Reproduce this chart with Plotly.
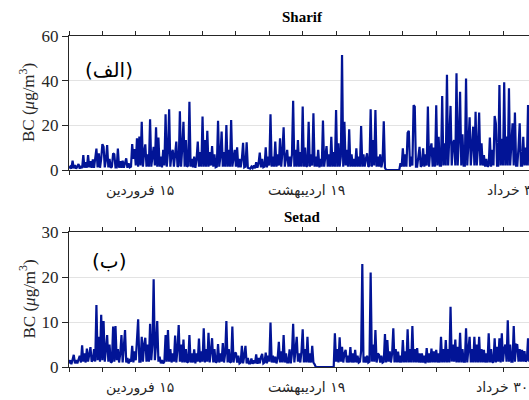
import numpy as np
import plotly.graph_objects as go

# Black carbon (µg/m³), one value every 6 hours starting at 1 Farvardin.
# Each row holds four days (00h, 06h, 12h, 18h per day).
sharif_bc = [
    0.8, 1.5, 0.6, 4.2,   0.7, 2.2, 0.6, 1.8,   2.7, 0.6, 1.8, 0.8,   6.7, 1.0, 3.5, 1.0,
    6.7, 1.2, 4.0, 1.0,   4.8, 1.0, 5.0, 9.6,   1.2, 7.5, 1.0, 5.0,   11.6, 10.4, 1.2, 4.5,
    11.2, 1.2, 5.0, 1.0,  1.5, 7.5, 7.0, 1.2,   1.2, 9.6, 1.0, 4.0,   1.0, 4.2, 1.0, 3.0,
    5.2, 1.0, 3.0, 1.2,   1.5, 11.6, 5.0, 9.4,  2.0, 14.2, 1.5, 15.0, 2.0, 21.6, 1.5, 8.0,
    11.5, 1.5, 7.0, 1.5,  22.7, 1.5, 8.0, 10.4, 2.0, 19.1, 1.5, 14.5, 1.5, 6.0, 1.2, 9.0,
    2.0, 25.0, 1.5, 8.0,  27.2, 1.5, 7.0, 9.0,  1.5, 6.0, 12.7, 1.5,  2.0, 26.3, 1.5, 10.0,
    21.6, 1.5, 13.4, 1.5, 2.0, 30.6, 1.5, 5.0,  1.2, 6.0, 1.0, 5.0,   12.7, 1.5, 8.0, 1.5,
    23.9, 1.5, 13.4, 1.5, 17.6, 1.5, 8.0, 2.0,  10.7, 1.5, 7.0, 1.2,  1.5, 22.0, 1.5, 6.0,
    17.2, 1.5, 8.0, 1.5,  20.1, 1.5, 9.0, 1.5,  22.4, 1.5, 6.0, 9.0,  1.5, 10.1, 1.2, 5.0,
    1.2, 5.0, 12.2, 1.2,  1.5, 12.4, 1.0, 0.8,  0.6, 1.5, 0.8, 2.0,   0.8, 3.5, 1.0, 3.0,
    7.8, 1.2, 5.0, 1.2,   1.5, 10.1, 1.2, 6.0,  2.0, 25.0, 1.5, 6.0,  1.5, 12.7, 1.5, 7.0,
    2.0, 14.2, 1.5, 8.0,  19.1, 1.5, 6.0, 9.0,  1.5, 6.0, 1.5, 7.0,   31.0, 1.5, 9.0, 1.5,
    13.4, 1.5, 8.0, 1.5,  28.4, 1.5, 10.0, 1.5, 2.0, 21.6, 1.5, 7.0,  2.0, 25.4, 1.5, 6.0,
    1.5, 9.0, 1.2, 5.0,   1.5, 22.1, 1.5, 7.0,  10.7, 1.5, 7.0, 1.5,  14.9, 1.5, 8.0, 1.5,
    26.9, 1.5, 11.9, 1.5, 6.0, 51.5, 1.5, 21.6, 2.0, 9.0, 1.5, 18.2,  1.5, 7.0, 1.5, 5.0,
    1.5, 9.7, 1.5, 6.0,   1.5, 19.7, 1.5, 7.0,  1.5, 5.0, 7.5, 1.5,   2.0, 27.2, 1.5, 13.4,
    2.0, 26.9, 1.5, 6.0,  1.5, 7.0, 1.2, 4.0,   21.8, 1.0, 0.0, 0.0,  0.0, 0.0, 0.0, 0.0,
    0.0, 0.0, 0.0, 0.0,   0.0, 0.0, 3.0, 1.5,   9.7, 1.5, 7.0, 1.5,   16.7, 17.6, 1.5, 6.0,
    2.0, 29.0, 28.4, 1.5, 1.5, 8.0, 10.4, 1.5,  2.0, 9.7, 1.5, 7.0,   2.0, 28.4, 1.5, 9.0,
    11.9, 1.5, 10.0, 1.5, 29.0, 2.0, 14.9, 2.0, 2.0, 33.1, 2.0, 12.0, 2.0, 42.7, 2.0, 15.0,
    28.7, 2.0, 12.0, 13.4, 2.0, 43.3, 2.0, 14.0, 35.0, 2.0, 16.0, 2.0, 2.0, 41.0, 2.0, 12.0,
    23.6, 2.0, 12.0, 19.4, 2.0, 26.1, 2.0, 10.0, 25.7, 2.0, 12.0, 2.0, 6.7, 1.5, 5.0, 1.5,
    2.0, 14.5, 1.5, 9.0,  2.0, 24.2, 20.9, 2.0, 2.0, 38.0, 2.0, 14.0, 2.0, 39.3, 2.0, 15.0,
    2.0, 36.6, 2.0, 12.0, 20.9, 2.0, 25.7, 2.0, 2.0, 10.0, 20.9, 2.0, 2.0, 14.9, 2.0, 10.0,
    2.0, 29.1, 2.0, 12.0, 2.0, 8.0, 2.0, 5.0,
]

setad_bc = [
    0.8, 1.5, 0.6, 1.5,   2.7, 0.8, 1.5, 0.8,   1.5, 2.5, 1.0, 4.8,   1.2, 3.0, 1.0, 4.1,
    1.2, 3.0, 4.4, 1.2,   1.5, 4.0, 1.2, 13.8,  1.5, 6.7, 1.2, 11.6,  1.5, 10.2, 1.2, 4.0,
    7.1, 1.2, 5.0, 1.0,   1.2, 9.0, 1.2, 9.1,   1.5, 4.0, 1.0, 3.0,   7.1, 1.0, 4.0, 8.2,
    1.0, 2.0, 0.8, 1.5,   1.2, 4.7, 1.0, 3.5,   1.5, 5.0, 10.6, 1.2,  1.2, 6.7, 1.2, 5.0,
    6.5, 1.2, 5.0, 1.2,   9.6, 1.5, 5.0, 19.5,  1.5, 5.0, 10.2, 1.2,  2.3, 0.8, 1.5, 0.8,
    1.2, 7.1, 1.2, 8.2,   1.2, 4.0, 1.0, 3.0,   1.2, 7.0, 1.0, 4.0,   9.3, 1.2, 5.0, 1.0,
    6.1, 1.0, 4.0, 1.0,   1.2, 7.1, 1.0, 3.0,   1.0, 3.9, 0.8, 3.0,   1.2, 6.3, 1.0, 3.5,
    1.2, 8.6, 1.0, 4.0,   1.2, 7.6, 1.0, 3.5,   6.4, 1.0, 4.0, 1.0,   1.2, 5.1, 1.0, 3.0,
    1.2, 5.3, 1.0, 3.0,   10.2, 1.0, 4.0, 1.0,  1.2, 9.0, 1.0, 3.0,   3.2, 1.0, 2.5, 0.8,
    1.0, 4.7, 0.8, 2.5,   4.7, 0.8, 2.0, 0.8,   0.8, 1.9, 0.7, 1.5,   0.8, 2.8, 0.7, 2.0,
    0.8, 2.2, 2.9, 0.8,   1.0, 3.2, 0.8, 2.5,   1.2, 9.9, 1.0, 2.5,   1.0, 2.3, 0.8, 2.0,
    5.6, 1.0, 3.5, 1.0,   7.1, 1.0, 3.0, 1.0,   1.0, 3.9, 0.8, 3.0,   9.6, 1.0, 4.0, 6.7,
    1.2, 3.0, 1.0, 3.5,   8.4, 1.0, 4.0, 1.0,   6.7, 1.0, 3.0, 1.0,   4.7, 1.0, 0.6, 0.0,
    0.0, 0.0, 0.0, 0.0,   0.0, 0.0, 0.0, 0.0,   0.0, 0.0, 0.0, 0.0,   0.0, 0.0, 0.0, 7.5,
    1.2, 4.0, 1.0, 6.6,   1.2, 4.5, 1.0, 3.0,   3.8, 1.0, 2.5, 1.0,   4.4, 1.0, 3.0, 1.0,
    3.8, 1.0, 2.5, 1.0,   1.2, 3.5, 22.9, 1.0,  2.3, 1.0, 2.5, 1.0,   1.2, 21.0, 1.2, 5.0,
    1.2, 8.2, 1.0, 3.0,   2.7, 1.0, 2.5, 1.0,   1.2, 7.3, 1.0, 6.0,   1.2, 3.5, 1.0, 3.0,
    8.6, 1.0, 4.0, 1.0,   3.4, 1.0, 2.5, 1.0,   6.0, 1.0, 3.5, 1.0,   8.4, 1.0, 4.0, 1.0,
    9.1, 1.0, 4.0, 1.0,   4.2, 1.0, 3.0, 1.0,   3.0, 1.0, 2.5, 0.8,   4.2, 1.0, 3.0, 1.0,
    4.1, 1.0, 3.5, 1.0,   3.8, 1.0, 3.0, 1.0,   6.7, 1.0, 4.0, 1.0,   6.0, 1.0, 4.0, 1.0,
    13.4, 1.2, 5.0, 1.2,  6.1, 1.0, 4.5, 1.0,   7.6, 1.0, 4.0, 1.2,   1.2, 8.6, 1.0, 4.0,
    6.7, 1.0, 4.0, 1.0,   6.7, 1.0, 5.0, 1.0,   6.7, 1.0, 4.0, 1.0,   3.8, 1.0, 3.0, 1.0,
    7.5, 1.0, 4.0, 1.0,   1.2, 6.4, 1.0, 4.5,   1.2, 6.4, 1.0, 7.5,   1.2, 4.0, 5.0, 1.2,
    10.4, 1.2, 5.0, 1.2,  1.2, 9.1, 1.2, 5.0,   4.9, 1.2, 4.0, 1.2,   3.8, 1.2, 3.5, 1.2,
    1.5, 6.4, 1.2, 4.0,   1.5, 3.0, 1.2, 2.5,
]

sample_step_days = 0.25

# Persian calendar dates marked under the time axis (days after 1 Farvardin)
date_days = [14, 49, 91]
date_labels = ["۱۵ فروردین", "۱۹ اردیبهشت", "۳۰ خرداد"]

stations = ["Sharif", "Setad"]
panel_tags = ["(الف)", "(ب)"]
y_max = [60, 30]
y_step = [20, 10]

W, H = 529, 400
LINE = "rgb(2,20,150)"
AX = "#262626"
SERIF = "Liberation Serif, Times New Roman, serif"
ARABIC = "DejaVu Sans, sans-serif"
RLE, PDF = "\u202b", "\u202c"   # right-to-left embedding for Persian labels

# plot geometry (pixels)
left_px = 69
px_per_day = (503 - 69) / 91
x_end = (W - left_px) / px_per_day
panels_px = [(36, 170), (232, 367)]   # top, bottom of each axes box
ylabel_px = 27
title_px = 302
# horizontal nudge of each date label, per panel
date_shift = [[4, 4, 10], [4, 4, -1]]

fig = go.Figure()
annotations = []

for k, series in enumerate([sharif_bc, setad_bc]):
    name = stations[k]
    days = np.arange(len(series)) * sample_step_days
    xa = "x" if k == 0 else "x2"
    ya = "y" if k == 0 else "y2"
    fig.add_trace(go.Scatter(
        x=days, y=series, mode="lines", xaxis=xa, yaxis=ya,
        line=dict(color=LINE, width=2.2), showlegend=False, hoverinfo="skip",
    ))

    top, bot = panels_px[k]
    dom_y = [1 - bot / H, 1 - top / H]
    axis_suffix = "" if k == 0 else "2"

    fig.update_layout(**{
        f"xaxis{axis_suffix}": dict(
            domain=[left_px / W, 1.0], range=[0, x_end], automargin=False,
            anchor=ya, tick0=0, dtick=7, ticks="outside", ticklen=4,
            tickcolor=AX, tickwidth=1, showticklabels=False,
            showline=True, linecolor=AX, linewidth=1, mirror="ticks",
            showgrid=False, zeroline=False,
        ),
        f"yaxis{axis_suffix}": dict(
            domain=dom_y, range=[0, y_max[k]], anchor=xa, automargin=False,
            tick0=0, dtick=y_step[k], ticks="outside", ticklen=6,
            tickcolor=AX, tickwidth=1,
            tickfont=dict(family=SERIF, size=17, color=AX),
            showline=True, linecolor=AX, linewidth=1, mirror=False,
            showgrid=True, gridcolor="#e3e3e3", gridwidth=1, zeroline=False,
        ),
    })

    # station title
    title_gap = 19 if k == 0 else 15
    annotations.append(dict(
        text=f"<b>{name}</b>", x=title_px / W, y=1 - (top - title_gap) / H,
        xref="paper", yref="paper", xanchor="center", yanchor="middle",
        showarrow=False, font=dict(family=SERIF, size=15, color="black"),
    ))
    # y-axis label
    annotations.append(dict(
        text="BC (<i>μ</i>g/m<sup>3</sup>)", x=ylabel_px / W,
        y=1 - (top + bot) / 2 / H, xref="paper", yref="paper",
        xanchor="center", yanchor="middle", textangle=-90, showarrow=False,
        font=dict(family=SERIF, size=17, color=AX),
    ))
    # panel tag
    annotations.append(dict(
        text=panel_tags[k], x=109 / W, y=1 - (top + (34 if k == 0 else 29)) / H,
        xref="paper", yref="paper", xanchor="center", yanchor="middle",
        showarrow=False, font=dict(family=ARABIC, size=20, color="black"),
    ))
    # date labels
    for j, (d, lab) in enumerate(zip(date_days, date_labels)):
        annotations.append(dict(
            text=RLE + lab + PDF, x=d, y=1 - (bot + 20) / H, xref=xa, yref="paper",
            xanchor="center", yanchor="middle", xshift=date_shift[k][j],
            showarrow=False, font=dict(family=ARABIC, size=14, color=AX),
        ))

fig.update_layout(
    template="none",
    width=W, height=H, margin=dict(l=0, r=0, t=0, b=0, pad=0),
    paper_bgcolor="white", plot_bgcolor="white",
    annotations=annotations,
)

fig.write_html("out.html")
